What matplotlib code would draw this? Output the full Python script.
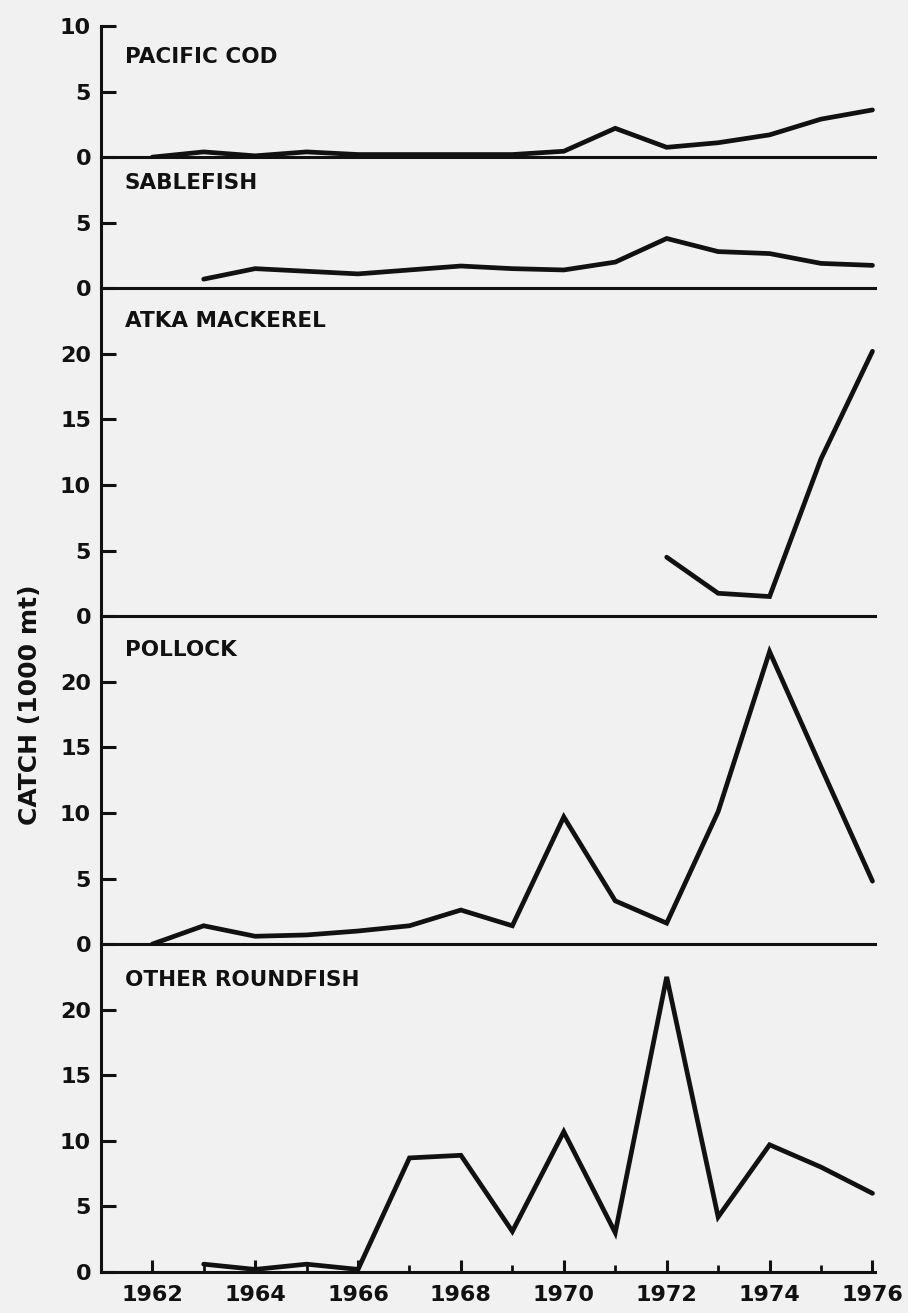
import numpy as np
import matplotlib
matplotlib.use("Agg")
import matplotlib.pyplot as plt
from matplotlib.ticker import MultipleLocator

nan = np.nan
years = list(range(1962, 1977))
pacific_cod = [0, 0.4, 0.1, 0.4, 0.2, 0.2, 0.2, 0.2, 0.45, 2.2, 0.75, 1.1, 1.7, 2.9, 3.6]
sablefish = [nan, 0.7, 1.5, 1.3, 1.1, 1.4, 1.7, 1.5, 1.4, 2.0, 3.8, 2.8, 2.65, 1.9, 1.75]
atka_mackerel = [nan] * 10 + [4.5, 1.75, 1.5, 12.0, 20.2]
pollock = [0, 1.4, 0.6, 0.7, 1.0, 1.4, 2.6, 1.4, 9.7, 3.3, 1.6, 10.1, 22.3, 13.5, 4.8]
other_roundfish = [nan, 0.6, 0.2, 0.6, 0.2, 8.7, 8.9, 3.1, 10.7, 3.0, 22.5, 4.2, 9.7, 8.0, 6.0]

panel_names = ["PACIFIC COD", "SABLEFISH", "ATKA MACKEREL", "POLLOCK", "OTHER ROUNDFISH"]
panel_series = [pacific_cod, sablefish, atka_mackerel, pollock, other_roundfish]
panel_ymax = [10, 10, 25, 25, 25]
panel_yticks = [[0, 5, 10], [0, 5], [0, 5, 10, 15, 20], [0, 5, 10, 15, 20], [0, 5, 10, 15, 20]]
xtick_major = [1962, 1964, 1966, 1968, 1970, 1972, 1974, 1976]

ink = "#111111"
paper = "#f1f1f1"
plt.rcParams['font.family'] = ['DejaVu Sans']

fig = plt.figure(figsize=(9.08, 13.13), dpi=100, facecolor=paper)
gs = fig.add_gridspec(5, 1, height_ratios=panel_ymax, hspace=0,
                      left=0.111, right=0.9637, top=0.9802, bottom=0.0312)
axes = []
for i in range(5):
    ax = fig.add_subplot(gs[i], sharex=axes[0] if axes else None)
    axes.append(ax)
    ax.set_facecolor('none')
    ax.plot(years, panel_series[i], color=ink, lw=3.4, solid_joinstyle='miter',
            solid_capstyle='round', zorder=3)
    ax.set_ylim(0, panel_ymax[i])
    ax.set_yticks(panel_yticks[i])
    ax.set_yticklabels([str(t) for t in panel_yticks[i]], fontsize=16, fontweight='bold', color=ink)
    for s in ['top', 'right']:
        ax.spines[s].set_visible(False)
    for s in ['left', 'bottom']:
        ax.spines[s].set_color(ink)
        ax.spines[s].set_linewidth(2.2)
    ax.tick_params(axis='y', direction='in', length=11, width=2.2, color=ink, pad=7)
    if i < 4:
        ax.tick_params(axis='x', which='both', bottom=False, labelbottom=False)

label_y_units = [7.6, 8.0, 22.5, 22.4, 22.3]
for ax, name, ly in zip(axes, panel_names, label_y_units):
    ax.text(1961.47, ly, name, fontsize=15.5, fontweight='bold', color=ink,
            ha='left', va='center')

axb = axes[-1]
axb.set_xlim(1961, 1976.05)
axb.set_xticks(xtick_major)
axb.set_xticklabels([str(y) for y in xtick_major], fontsize=16, fontweight='bold', color=ink)
axb.xaxis.set_minor_locator(MultipleLocator(1))
axb.tick_params(axis='x', which='major', direction='in', length=9, width=2.2, color=ink, pad=9)
axb.tick_params(axis='x', which='minor', direction='in', length=5, width=2.0, color=ink)

fig.text(30 / 908, 1 - 705 / 1313, "CATCH (1000 mt)", rotation=90, fontsize=18,
         fontweight='bold', color=ink, ha='center', va='center')

fig.savefig("out.png", dpi=100, facecolor=paper)
